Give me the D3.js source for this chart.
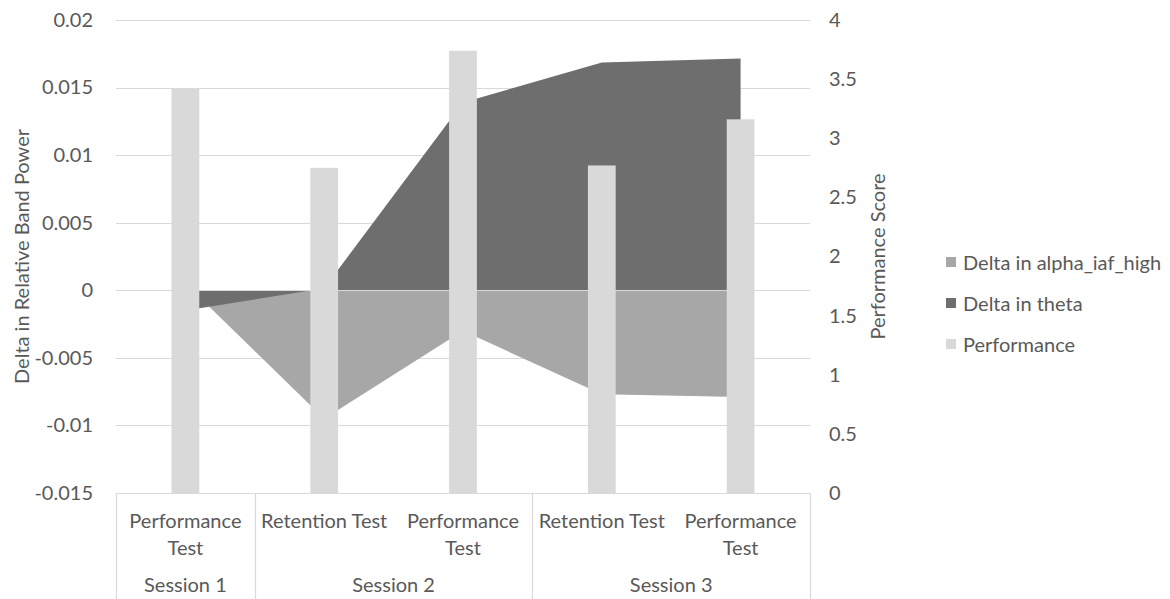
<!DOCTYPE html>
<html>
<head>
<meta charset="utf-8">
<script src="https://cdn.jsdelivr.net/npm/d3@7"></script>
<style>
  html, body { margin: 0; padding: 0; background: #ffffff; }
  svg { display: block; }
  text { font-family: Lato, "Open Sans", sans-serif; fill: #595959; }
</style>
</head>
<body>
<svg id="chart" width="1170" height="599"></svg>
<script>
// Session / test labels for each column
const sessions = ["Session 1", "Session 2", "Session 3"];
const sessionSpans = [1, 2, 2];
const tests = ["Performance Test", "Retention Test", "Performance Test", "Retention Test", "Performance Test"];

// Series values
const alphaIafHigh = [0.0005, -0.0095, -0.0030, -0.0077, -0.0079];
const theta = [-0.0015, 0.00015, 0.0139, 0.01685, 0.01715];
const performance = [3.42, 2.75, 3.74, 2.77, 3.16];

// Axis ticks
const leftTicks = [-0.015, -0.01, -0.005, 0, 0.005, 0.01, 0.015, 0.02];
const rightTicks = [0, 0.5, 1, 1.5, 2, 2.5, 3, 3.5, 4];

const seriesNames = ["Delta in alpha_iaf_high", "Delta in theta", "Performance"];
const colors = { alpha: "#a7a7a7", theta: "#6e6e6e", perf: "#d9d9d9", grid: "#d9d9d9", text: "#595959" };

const svg = d3.select("#chart");
const FS = 20;

const plot = { left: 116, right: 810, top: 20, bottom: 493 };

const x = d3.scaleBand().domain(d3.range(tests.length)).range([plot.left, plot.right]).padding(0);
const yL = d3.scaleLinear().domain([-0.015, 0.02]).range([plot.bottom, plot.top]);
const yR = d3.scaleLinear().domain([0, 4]).range([plot.bottom, plot.top]);
const cx = i => x(i) + x.bandwidth() / 2;

// Horizontal gridlines from the left axis
svg.append("g").selectAll("line")
  .data(leftTicks.filter(t => t !== -0.015))
  .join("line")
  .attr("x1", plot.left).attr("x2", plot.right)
  .attr("y1", d => Math.round(yL(d)) + 0.5).attr("y2", d => Math.round(yL(d)) + 0.5)
  .attr("stroke", colors.grid).attr("stroke-width", 1);

// Area series (theta drawn over alpha)
const area = d3.area()
  .x((d, i) => cx(i))
  .y0(yL(0))
  .y1(d => yL(d));

svg.append("path").datum(alphaIafHigh).attr("d", area).attr("fill", colors.alpha);
svg.append("path").datum(theta).attr("d", area).attr("fill", colors.theta);

// Zero line across the areas
svg.append("line")
  .attr("x1", cx(0)).attr("x2", cx(tests.length - 1))
  .attr("y1", Math.round(yL(0)) + 0.5).attr("y2", Math.round(yL(0)) + 0.5)
  .attr("stroke", colors.grid).attr("stroke-width", 1);

// Performance bars on the secondary axis
const barW = x.bandwidth() * 0.2;
svg.append("g").selectAll("rect")
  .data(performance)
  .join("rect")
  .attr("x", (d, i) => cx(i) - barW / 2)
  .attr("width", barW)
  .attr("y", d => yR(d))
  .attr("height", d => yR(0) - yR(d))
  .attr("fill", colors.perf);

// Left axis labels (plain hyphen for negatives)
const leftAxis = d3.axisLeft(yL).tickValues(leftTicks).tickSize(0).tickPadding(0)
  .tickFormat(d => String(+d.toFixed(3)));
const gL = svg.append("g").attr("transform", `translate(93,0)`).call(leftAxis);
gL.select(".domain").remove();
gL.selectAll("text").attr("font-size", FS).attr("fill", colors.text)
  .attr("font-family", "Lato, sans-serif");

// Right axis labels
const rightAxis = d3.axisRight(yR).tickValues(rightTicks).tickSize(0).tickPadding(0)
  .tickFormat(d => String(d));
const gR = svg.append("g").attr("transform", `translate(829,0)`).call(rightAxis);
gR.select(".domain").remove();
gR.selectAll("text").attr("font-size", FS).attr("fill", colors.text)
  .attr("font-family", "Lato, sans-serif");

// Axis titles
svg.append("text")
  .attr("transform", `translate(21,${(plot.top + plot.bottom) / 2}) rotate(-90)`)
  .attr("text-anchor", "middle").attr("dominant-baseline", "central")
  .attr("font-size", FS).text("Delta in Relative Band Power");
svg.append("text")
  .attr("transform", `translate(877,${(plot.top + plot.bottom) / 2}) rotate(-90)`)
  .attr("text-anchor", "middle").attr("dominant-baseline", "central")
  .attr("font-size", FS).text("Performance Score");

// Category axis: baseline and session separators
const axisColor = "#d9d9d9";
svg.append("line")
  .attr("x1", plot.left).attr("x2", plot.right)
  .attr("y1", plot.bottom + 0.5).attr("y2", plot.bottom + 0.5)
  .attr("stroke", axisColor).attr("stroke-width", 1.2);

let acc = 0;
const bounds = [0];
sessionSpans.forEach(s => { acc += s; bounds.push(acc); });
const boundX = k => (k < tests.length ? x(k) : plot.right);
svg.append("g").selectAll("line")
  .data(bounds)
  .join("line")
  .attr("x1", k => Math.round(boundX(k)) + 0.5).attr("x2", k => Math.round(boundX(k)) + 0.5)
  .attr("y1", plot.bottom).attr("y2", 599)
  .attr("stroke", axisColor).attr("stroke-width", 1.2);

// Test labels (wrapped onto two lines where they do not fit)
const lineH = 26.5;
const firstLineY = 520;
tests.forEach((t, i) => {
  const lines = t === "Performance Test" ? ["Performance", "Test"] : [t];
  const tx = svg.append("text")
    .attr("text-anchor", "middle").attr("font-size", FS);
  lines.forEach((ln, j) => {
    tx.append("tspan").attr("x", cx(i)).attr("y", firstLineY + j * lineH)
      .attr("dominant-baseline", "central").text(ln);
  });
});

// Session labels
sessions.forEach((s, k) => {
  const a = boundX(bounds[k]), b = boundX(bounds[k + 1]);
  svg.append("text")
    .attr("x", (a + b) / 2).attr("y", 584)
    .attr("text-anchor", "middle").attr("dominant-baseline", "central")
    .attr("font-size", FS).text(s);
});

// Legend
const legendColors = [colors.alpha, colors.theta, colors.perf];
const lg = svg.append("g");
seriesNames.forEach((name, i) => {
  const y = 262 + i * 41;
  lg.append("rect").attr("x", 946).attr("y", y - 5).attr("width", 10).attr("height", 10)
    .attr("fill", legendColors[i]);
  lg.append("text").attr("x", 963).attr("y", y)
    .attr("dominant-baseline", "central").attr("font-size", FS).text(name);
});
</script>
</body>
</html>
